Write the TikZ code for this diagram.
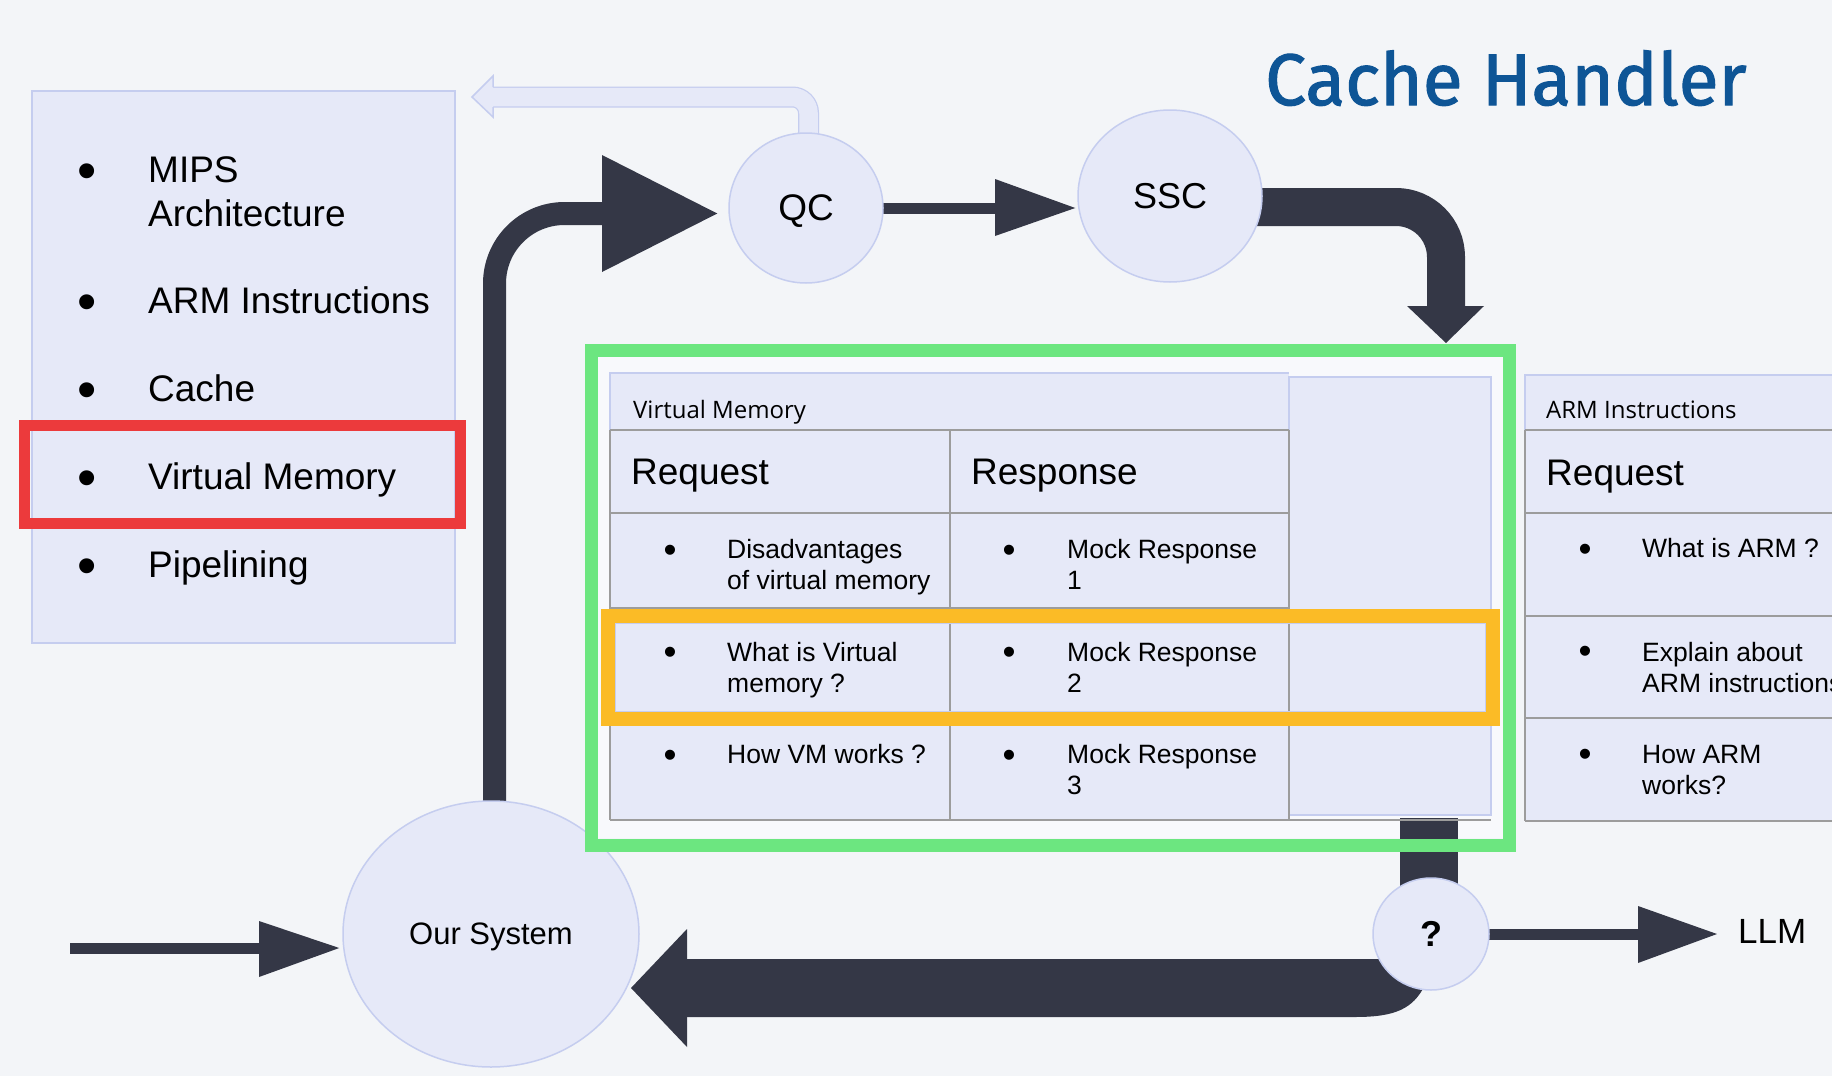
\documentclass[tikz,border=0pt]{standalone}
\usepackage{fontspec}
\setmainfont{Liberation Sans}
\newfontfamily\titlefont[FakeBold=1.5]{Fira Sans}
\newfontfamily\capfont{Open Sans}
\usetikzlibrary{shapes.geometric,calc}
\definecolor{bgc}{HTML}{F3F5F8}
\definecolor{innerc}{HTML}{F8F9FC}
\definecolor{lav}{HTML}{E6E9F8}
\definecolor{lavb}{HTML}{C5CDEF}
\definecolor{dark}{HTML}{343746}
\definecolor{redc}{HTML}{EC3A3C}
\definecolor{orangec}{HTML}{FBBB26}
\definecolor{greenc}{HTML}{6CE680}
\definecolor{gridc}{HTML}{9C9C9C}
\definecolor{titleblue}{HTML}{0E5596}
\newcommand\fsz[2]{\fontsize{#1}{#2}\selectfont}
\pgfdeclarelayer{bg}\pgfdeclarelayer{behind}\pgfdeclarelayer{front}
\pgfsetlayers{bg,behind,main,front}
\tikzset{
  bubble/.style={ellipse, fill=lav, draw=lavb, line width=1.5pt, inner sep=0pt, text depth=0pt},
  listtxt/.style={anchor=base west, font=\fsz{37}{44}, align=left, inner sep=0pt},
  listbul/.style={anchor=base, font=\fsz{55}{44}, inner sep=0pt, yshift=-7pt},
  celltxt/.style={anchor=base west, font=\fsz{26.5}{31}, align=left, inner sep=0pt},
  cellbul/.style={anchor=base, font=\fsz{37}{31}, inner sep=0pt, yshift=-4pt},
  headtxt/.style={anchor=base west, font=\fsz{37}{44}, inner sep=0pt},
  tabtitle/.style={anchor=base west, font=\capfont\fsz{24}{28}, inner sep=0pt},
  darkshaft/.style={draw=dark, line width=#1},
  darkhead/.style={fill=dark},
  gridline/.style={draw=gridc, line width=2pt},
  lavline/.style={draw=lavb, line width=1.5pt}
}
\begin{document}
\begin{tikzpicture}[x=1pt,y=-1pt]
\useasboundingbox (0,0) rectangle (1832,1076);
\clip (0,0) rectangle (1832,1076);
\begin{pgfonlayer}{bg}
  \fill[bgc] (0,0) rectangle (1832,1076);
  \fill[innerc] (598,357) rectangle (1503,838);
\end{pgfonlayer}

% title
\node[anchor=base west, font=\titlefont\fsz{73}{80}, text=titleblue, inner sep=0pt] (title) at (1265,105) {Cache Handler};

% topic list
\node[draw=lavb, fill=lav, line width=1.5pt, minimum width=423pt, minimum height=552pt, anchor=north west, inner sep=0pt] (topics) at (31,90) {};
\node[listbul] (tb1) at (87,182) {•};
\node[listtxt] (t1) at (148,226) {MIPS\\Architecture};
\node[listbul] (tb2) at (87,313) {•};
\node[listtxt] (t2) at (148,313) {ARM Instructions};
\node[listbul] (tb3) at (87,401) {•};
\node[listtxt] (t3) at (148,401) {Cache};
\node[listbul] (tb4) at (87,489) {•};
\node[listtxt] (t4) at (148,489) {Virtual Memory};
\node[listbul] (tb5) at (87,577) {•};
\node[listtxt] (t5) at (148,577) {Pipelining};

% bubbles
\node[bubble, minimum width=154pt, minimum height=150pt, font=\fsz{37}{44}] (qc) at (806,208) {QC};
\node[bubble, minimum width=184pt, minimum height=172pt, font=\fsz{36}{44}] (ssc) at (1170,196) {SSC};
\node[bubble, minimum width=296pt, minimum height=266pt, font=\fsz{31}{36}] (os) at (491,934) {Our System};
\node[bubble, minimum width=116pt, minimum height=112pt, font=\bfseries\fsz{36}{40}] (qm) at (1431,934) {?};
\node[anchor=base west, font=\fsz{35}{40}, inner sep=0pt] (llm) at (1738,943) {LLM};

% Virtual Memory table
\fill[lav] (610,373) rectangle (1289,820);
\filldraw[fill=lav, lavline] (1289,377) rectangle (1491,815);
\draw[lavline] (610,430) -- (610,373) -- (1289,373);
\draw[gridline] (610,430) -- (1289,430) (610,513) -- (1289,513)
  (610,608) -- (1289,608) (610,717) -- (1289,717) (610,820) -- (1491,820)
  (610,430) -- (610,820) (950,430) -- (950,820) (1289,430) -- (1289,820);
\node[tabtitle] (vmt) at (633,418) {Virtual Memory};
\node[headtxt] (vmreq) at (631,484) {Request};
\node[headtxt] (vmres) at (971,484) {Response};
\node[cellbul] at (670,558) {•};
\node[celltxt] (q1) at (727,589) {Disadvantages\\of virtual memory};
\node[cellbul] at (670,660) {•};
\node[celltxt] (q2) at (727,692) {What is Virtual\\memory ?};
\node[cellbul] at (670,763) {•};
\node[celltxt] (q3) at (727,763) {How VM works ?};
\node[cellbul] at (1009,558) {•};
\node[celltxt] (r1) at (1067,589) {Mock Response\\1};
\node[cellbul] at (1009,660) {•};
\node[celltxt] (r2) at (1067,692) {Mock Response\\2};
\node[cellbul] at (1009,763) {•};
\node[celltxt] (r3) at (1067,794) {Mock Response\\3};

% ARM table
\fill[lav] (1525,375) rectangle (1840,821);
\draw[lavline] (1525,430) -- (1525,375) -- (1840,375);
\draw[gridline] (1525,430) -- (1840,430) (1525,513) -- (1840,513)
  (1525,616) -- (1840,616) (1525,718) -- (1840,718) (1525,821) -- (1840,821)
  (1525,430) -- (1525,821);
\node[tabtitle] (armt) at (1546,418) {ARM Instructions};
\node[headtxt] (armreq) at (1546,485) {Request};
\node[cellbul] at (1585,557) {•};
\node[celltxt] (a1) at (1642,557) {What is ARM ?};
\node[cellbul] at (1585,659) {•};
\node[celltxt] (a2) at (1642,692) {Explain about\\ARM instructions};
\node[cellbul] at (1585,762) {•};
\node[celltxt] (a3) at (1642,794) {How ARM\\works?};

% highlight frames
\begin{pgfonlayer}{front}
  \draw[redc, line width=11pt] (24,425) rectangle (460,523);
  \draw[greenc, line width=13pt] (591.5,350.5) rectangle (1509,845);
  \draw[lavb, line width=1.2pt] (615,623) rectangle (1486,712);
  \draw[orangec, line width=14pt] (608,616) rectangle (1493,719);
\end{pgfonlayer}

% connectors
\begin{pgfonlayer}{behind}
  % input -> Our System
  \coordinate (src) at (70,948);
  \draw[darkshaft=11pt] (src) -- (262,948);
  \fill[darkhead] (259,921) -- ($(os.west)+(-3,14)$) -- (259,977) -- cycle;
  % Our System -> QC
  \draw[darkshaft=23pt, rounded corners=70pt] ($(os.north)+(3.5,10)$) |- (604,213.5);
  \fill[darkhead] (602,155) -- ($(qc.west)+(-11,5.5)$) -- (602,272) -- cycle;
  % QC -> SSC
  \draw[darkshaft=11pt] ($(qc.east)+(-5,0)$) -- (997,208);
  \fill[darkhead] (995,179) -- ($(ssc.west)+(-2,12)$) -- (995,236) -- cycle;
  % SSC -> table
  \draw[darkshaft=38pt, rounded corners=50pt] ($(ssc.east)+(-10,11)$) -| (1446,308);
  \fill[darkhead] (1407,306) -- (1446,343) -- (1484,306) -- cycle;
  % QC -> back (light)
  \draw[lavb, line width=21pt, rounded corners=16pt] ($(qc.north)+(2.5,15)$) |- (490,97);
  \draw[lav, line width=18.5pt, rounded corners=16pt] ($(qc.north)+(2.5,15)$) |- (490,97);
  \fill[lav] (493,76) -- (472,97) -- (493,117) -- cycle;
  \draw[lavb, line width=1.5pt] (493,87) -- (493,76) -- (472,97) -- (493,117) -- (493,107);
  % table -> ?
  \draw[darkshaft=58pt] (1429,818) -- ($(qm.center)+(-2,-30)$);
  % ? -> Our System
  \fill[dark] (687,959) -- (1425,959) -- (1425,985)
    .. controls (1413,1009) and (1395,1017) .. (1355,1017) -- (687,1017) -- cycle;
  \fill[darkhead] (687,929) -- (631,988) -- (687,1047) -- cycle;
  % ? -> LLM
  \draw[darkshaft=11pt] ($(qm.east)+(-3,0)$) -- (1640,934);
  \fill[darkhead] (1638,906) -- ($(llm.base west)+(-21,-9)$) -- (1638,963) -- cycle;
\end{pgfonlayer}
\end{tikzpicture}
\end{document}
